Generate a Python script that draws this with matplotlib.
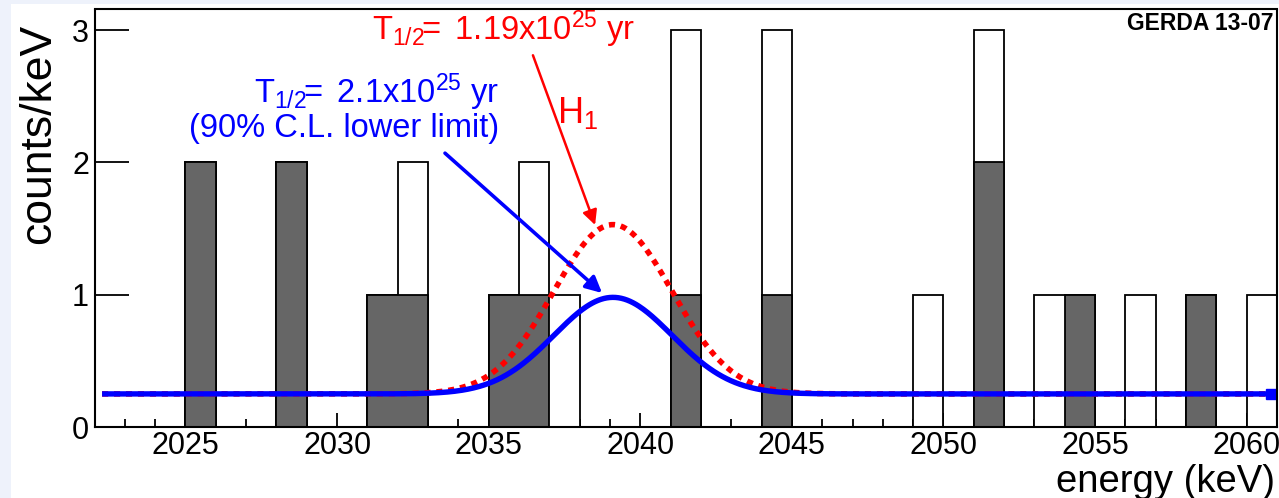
import numpy as np
import matplotlib
matplotlib.use("Agg")
import matplotlib.pyplot as plt
from matplotlib.patches import Rectangle

# ---------------- data ----------------
bin_low = list(range(2022, 2061))          # 1 keV bins, lower edges
counts_all = [0, 0, 0, 2, 0, 0, 2, 0, 0, 1, 2, 0, 0, 1, 2, 1, 0, 0, 0, 3,
              0, 0, 3, 0, 0, 0, 0, 1, 0, 3, 0, 1, 1, 0, 1, 0, 1, 0, 1]
counts_sub = [0, 0, 0, 2, 0, 0, 2, 0, 0, 1, 1, 0, 0, 1, 1, 0, 0, 0, 0, 1,
              0, 0, 1, 0, 0, 0, 0, 0, 0, 2, 0, 0, 1, 0, 0, 0, 1, 0, 0]

background = 0.25        # counts/keV
q_bb = 2039.1            # keV
sigma = 1.95             # keV
peak_h1 = 1.28           # T1/2 = 1.19e25 yr
peak_limit = 0.73        # T1/2 = 2.1e25 yr
curve_range = (2022.25, 2060.8)

xticks_major = [2025, 2030, 2035, 2040, 2045, 2050, 2055, 2060]
yticks = [0, 1, 2, 3]

# ---------------- style ----------------
plt.rcParams["font.family"] = ["Liberation Sans", "DejaVu Sans"]
plt.rcParams["mathtext.fontset"] = "custom"
plt.rcParams["mathtext.rm"] = "Liberation Sans"
plt.rcParams["mathtext.it"] = "Liberation Sans:italic"
plt.rcParams["mathtext.bf"] = "Liberation Sans:bold"

W, H = 1279, 498
fig = plt.figure(figsize=(W / 100, H / 100), dpi=100, facecolor="#eef2fb")
fig.patches.append(Rectangle((11 / W, 0), 1 - 11 / W, 1 - 4 / H,
                             transform=fig.transFigure, facecolor="white",
                             edgecolor="none", zorder=-10))

left, right, top, bottom = 94.5, 1277, 9.5, 427
ax = fig.add_axes([left / W, 1 - bottom / H, (right - left) / W, (bottom - top) / H])
ax.set_facecolor("white")

edges = np.arange(bin_low[0], bin_low[-1] + 2, 1.0)
all_arr = np.array(counts_all, dtype=float)
sub_arr = np.array(counts_sub, dtype=float)

# histogram of all events (white) and subset (dark grey), ROOT-like outlines
ax.stairs(all_arr, edges, fill=True, color="white", zorder=2)
ax.stairs(all_arr, edges, baseline=0, color="black", linewidth=1.3, zorder=2.5)
ax.stairs(sub_arr, edges, fill=True, color="#666666", zorder=3)
ax.stairs(sub_arr, edges, baseline=0, color="black", linewidth=1.3, zorder=3.5)

e = np.linspace(curve_range[0], curve_range[1], 800)
g = np.exp(-0.5 * ((e - q_bb) / sigma) ** 2)
ax.plot(e, background + peak_h1 * g, color="red", lw=4.0,
        linestyle=(0, (1.1, 1.05)), dash_capstyle="butt", zorder=4)
ax.plot(e, background + peak_limit * g, color="blue", lw=3.9,
        solid_capstyle="butt", zorder=5)
ax.plot([e[-1]], [background + peak_limit * g[-1]], marker="s", ms=6.5,
        color="blue", zorder=5)

ax.set_xlim(2022, 2061)
ax.set_ylim(0, 3.156)
ax.set_xticks(xticks_major)
ax.set_yticks(yticks)
ax.tick_params(axis="x", which="major", direction="in", length=10, width=1.3,
               labelsize=22, pad=3, top=False)
ax.tick_params(axis="x", which="minor", direction="in", length=5.8, width=1.3,
               top=False)
ax.tick_params(axis="y", which="major", direction="in", length=24.5, width=1.3,
               labelsize=22, pad=4, right=False)
ax.minorticks_on()
ax.yaxis.set_minor_locator(matplotlib.ticker.NullLocator())
ax.set_xticks(np.arange(2022, 2062, 1), minor=True)
for s in ax.spines.values():
    s.set_linewidth(1.5)
    s.set_zorder(6)

# labels
fig.text(39 / W, 1 - 134 / H, "counts/keV", rotation=90, ha="center",
         va="center", fontsize=32)
fig.text(1275 / W, 1 - 492 / H, "energy (keV)", ha="right", va="baseline",
         fontsize=27.5)
ax.text(2060.87, 3.135, "GERDA 13-07", ha="right", va="top", fontsize=16.5,
        fontweight="bold", zorder=7)

# annotations
ax.text(2035.5, 2.925, r"$\mathregular{T_{1/2}\!\!=\ 1.19x10^{25}\ yr}$",
        color="red", ha="center", va="baseline", fontsize=23.5, zorder=7)
ax.text(2037.25, 2.298, r"$\mathregular{H_{1}}$", color="red", ha="left",
        va="baseline", fontsize=26, zorder=7)
ax.text(2035.35, 2.449, r"$\mathregular{T_{1/2}\!\!=\ 2.1x10^{25}\ yr}$",
        color="blue", ha="right", va="baseline", fontsize=23.5, zorder=7)
ax.text(2035.35, 2.19, "(90% C.L. lower limit)", color="blue", ha="right",
        va="baseline", fontsize=23.5, zorder=7)

ax.annotate("", xy=(2038.51, 1.527), xytext=(2036.46, 2.81),
            arrowprops=dict(arrowstyle="-|>", color="red", lw=1.8,
                            mutation_scale=22, shrinkA=0, shrinkB=0), zorder=7)
ax.annotate("", xy=(2038.74, 1.013), xytext=(2033.56, 2.07),
            arrowprops=dict(arrowstyle="-|>", color="blue", lw=2.6,
                            mutation_scale=24, shrinkA=0, shrinkB=0), zorder=7)

fig.savefig("out.png", dpi=100, facecolor=fig.get_facecolor())
